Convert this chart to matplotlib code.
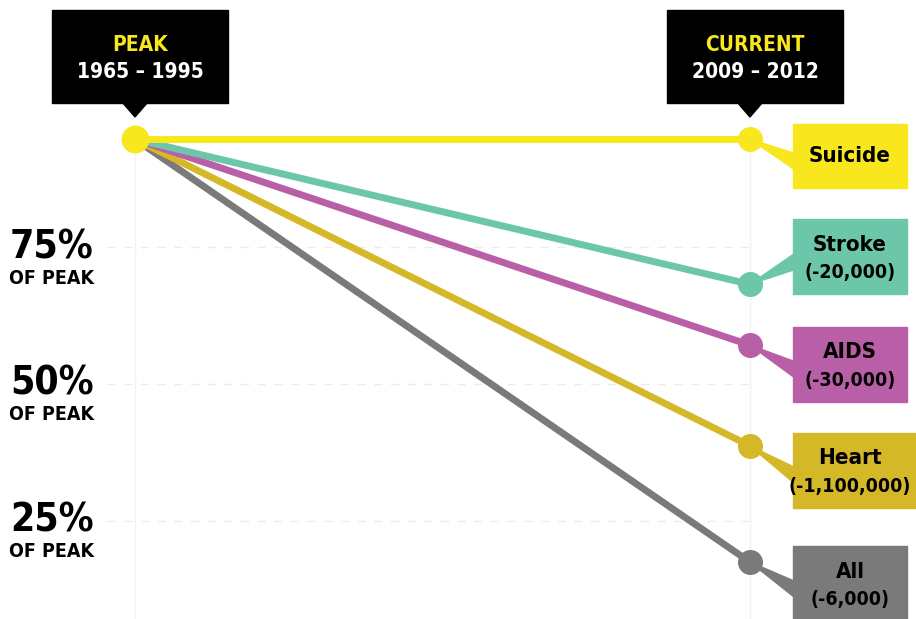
import matplotlib.pyplot as plt
from matplotlib.patches import Polygon, Rectangle

plt.rcParams["font.family"] = ["DejaVu Sans"]
plt.rcParams["font.weight"] = "bold"
plt.rcParams["font.stretch"] = "condensed"

# share of peak death rate, peak (1965-1995) vs current (2009-2012)
causes = ["All", "Heart", "AIDS", "Stroke", "Suicide"]
peak_pct = [94.7, 94.7, 94.7, 94.7, 94.7]
current_pct = [17.5, 38.7, 57.1, 68.2, 94.7]
changes = ["(-6,000)", "(-1,100,000)", "(-30,000)", "(-20,000)", ""]
tick_pct = [75, 50, 25]

colors = ["#7a7a7a", "#d5b827", "#b95fa7", "#6cc6aa", "#f8e71c"]
label_y = [13.5, 34.3, 53.6, 73.2, 91.6]   # label box centres (data units)

fig = plt.figure(figsize=(9.16, 6.19), dpi=100)
ax = fig.add_axes([0, 0, 1, 1])
ax.set_xlim(-0.2195, 1.27)
ax.set_ylim(7.1, 120.1)
ax.axis("off")

# pixel helper axes, used only for decoration placement
pxa = fig.add_axes([0, 0, 1, 1], zorder=-1)
pxa.set_xlim(0, 916)
pxa.set_ylim(619, 0)
pxa.axis("off")
PX = pxa.transData


def to_px(x, y):
    return PX.inverted().transform(ax.transData.transform((x, y)))


# faint guides
for t in tick_pct:
    ax.plot([-0.045, 1], [t, t], color="#ececec", lw=1, ls=(0, (6, 6)), zorder=0)
ax.vlines([0, 1], 7.1, peak_pct[0], color="#f2f2f2", lw=1, zorder=0)

# y labels
for t in tick_pct:
    ax.text(-0.135, t, f"{t}%", fontsize=28, ha="center", va="center", color="black")
    ax.annotate("OF PEAK", xy=(-0.135, t), xytext=(0, -31), textcoords="offset pixels",
                fontsize=14, ha="center", va="center", color="black")

# slope lines
for i, c in enumerate(causes):
    ax.plot([0, 1], [peak_pct[i], current_pct[i]], color=colors[i], lw=5,
            solid_capstyle="round", zorder=2)
    ax.plot(1, current_pct[i], "o", ms=17, color=colors[i], zorder=4)
ax.plot(0, peak_pct[-1], "o", ms=19, color=colors[-1], zorder=5)

# header boxes
for xv, head, years in [(0, "PEAK", "1965 \u2013 1995"), (1, "CURRENT", "2009 \u2013 2012")]:
    ax_x = to_px(xv, peak_pct[0])[0]
    ax.add_patch(Rectangle((ax_x - 83, 10), 176, 93, color="black", transform=PX, zorder=6))
    ax.add_patch(Polygon([(ax_x - 13, 102), (ax_x + 13, 102), (ax_x, 117)], color="black",
                         transform=PX, zorder=6))
    ax.text(ax_x + 5, 45, head, transform=PX, fontsize=15, color="#f8e71c",
            ha="center", va="center", zorder=7)
    ax.text(ax_x + 5, 72, years, transform=PX, fontsize=15, color="white",
            ha="center", va="center", zorder=7)

# right-hand labels
for i, c in enumerate(causes):
    px_pt = to_px(1, current_pct[i])
    cy = to_px(1, label_y[i])[1]
    left = px_pt[0] + 43
    h = 64 if changes[i] == "" else 75
    w = 130 if c == "Heart" else 114
    ax.add_patch(Polygon([(px_pt[0], px_pt[1]), (left + 1, cy - 3), (left + 1, cy + 13)],
                         color=colors[i], transform=PX, zorder=3))
    ax.add_patch(Rectangle((left, cy - h / 2), w, h, color=colors[i], transform=PX, zorder=3))
    if changes[i] == "":
        ax.text(left + 57, cy, c, transform=PX, fontsize=16, ha="center", va="center",
                color="black", zorder=7)
    else:
        ax.text(left + 57, cy - 12, c, transform=PX, fontsize=16, ha="center", va="center",
                color="black", zorder=7)
        ax.text(left + 57, cy + 16, changes[i], transform=PX, fontsize=14, ha="center",
                va="center", color="black", zorder=7)

plt.savefig("out.png", dpi=100)
